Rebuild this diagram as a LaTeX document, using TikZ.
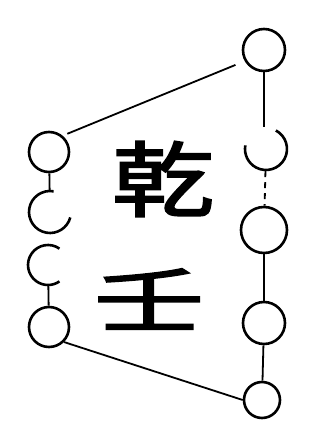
\documentclass[tikz,border=0pt]{standalone}
\usepackage{fontspec}
\newfontfamily\cjk[FakeBold=2]{Noto Sans CJK SC}
\begin{document}
\begin{tikzpicture}[x=1pt,y=1pt,
  ring/.style={circle,draw,line width=2.6pt,minimum size=#1,inner sep=0pt},
  gapring/.style={circle,draw=none,minimum size=#1,inner sep=0pt},
  link/.style={line width=1.8pt},
  arcline/.style={line width=2.6pt},
  glyph/.style={font=\cjk\fontsize{82}{82}\selectfont,inner sep=0pt}]
\useasboundingbox (0,0) rectangle (321,-433);
% left column
\node[ring=40] (L1) at (49,-152) {};
\node[gapring=44] (L2) at (50,-212) {};
\node[gapring=42] (L3) at (48,-265) {};
\node[ring=40] (L4) at (49,-327) {};
% right column
\node[ring=42] (R1) at (264,-50) {};
\node[gapring=44] (R2) at (266,-149) {};
\node[ring=46] (R3) at (264,-230) {};
\node[ring=42] (R4) at (264,-323) {};
\node[ring=36] (R5) at (262,-400) {};
% broken rings
\draw[arcline] ([shift={(80:21)}]L2.center) arc[start angle=80,end angle=345,radius=21];
\draw[arcline] ([shift={(55:20)}]L3.center) arc[start angle=55,end angle=305,radius=20];
\draw[arcline] ([shift={(62:21)}]R2.center) arc[start angle=62,end angle=-190,radius=21];
% connectors
\draw[link] (L1) -- (L2);
\draw[link] (L3) -- (L4);
\draw[link] (R1.south) -- (R2.north -| R1.south);
\draw[link,dash pattern=on 6pt off 5pt] (R2) -- (R3);
\draw[link] (R3) -- (R4);
\draw[link] (R4) -- (R5);
\draw[link,shorten <=5pt,shorten >=10pt] (L1.50) -- (R1.210);
\draw[link] (L4.south east) -- (R5.west);
% text
\node[glyph,xscale=1.25] (t1) at (163,-179) {乾};
\node[glyph,xscale=1.35,yscale=0.85] (t2) at (149,-299) {壬};
\end{tikzpicture}
\end{document}
